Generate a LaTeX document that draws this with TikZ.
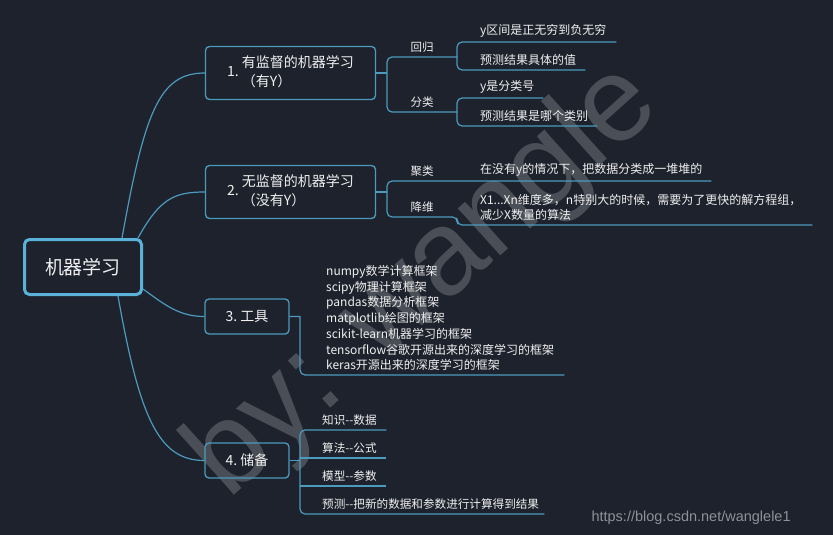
\documentclass[tikz,border=0pt]{standalone}
\usepackage{fontspec}
\setmainfont{Noto Sans CJK SC}
\newfontfamily\urlfont{Liberation Sans}
\usetikzlibrary{calc}
\definecolor{Bg}{HTML}{1E222D}
\definecolor{Line}{HTML}{4C9BBE}
\definecolor{RootLine}{HTML}{5AB2D8}
\definecolor{Ink}{HTML}{F0F0F0}
\definecolor{Mark}{HTML}{4A4E56}
\definecolor{Url}{HTML}{8E9197}

\begin{document}
\begin{tikzpicture}[x=1pt,y=-1pt,
  box/.style={draw=Line,line width=1.3pt,rounded corners=4pt,text=Ink,inner sep=0pt,font=\fontsize{14}{19}\selectfont},
  link/.style={draw=Line,line width=1.2pt},
  tag/.style={anchor=south west,inner xsep=0pt,inner ysep=4pt,minimum width=70pt,text=Ink,font=\fontsize{11.5}{14}\selectfont},
  item/.style 2 args={anchor=south west,inner xsep=0pt,inner ysep=4pt,text width=#1,text=Ink,font=\fontsize{12}{15}\selectfont,execute at begin node={\parindent=0pt\leftskip=#2\relax}},
  stock/.style={item={#1}{22pt},font=\fontsize{11.6}{15}\selectfont}]
\fill[Bg] (0,0) rectangle (833,535);
\useasboundingbox (0,0) rectangle (833,535);
\node[rotate=42,text=Mark,font=\urlfont\fontsize{120}{120}\selectfont] (mark) at (425,282) {by: wangle};
\node[anchor=base west,text=Url,font=\urlfont\fontsize{14.5}{16}\selectfont] (url) at (588,521) {https://blog.csdn.net/wanglele1};
\node[draw=RootLine,line width=3pt,rounded corners=5pt,minimum width=117pt,minimum height=55pt,text=Ink,font=\fontsize{19}{23}\selectfont] (root) at (83,267) {机器学习};
\node[box,minimum width=170pt,minimum height=53pt] (n1) at (290.5,73) {1.~\begin{tabular}{@{}l@{}}有监督的机器学习\\（有Y）\end{tabular}};
\node[box,minimum width=170pt,minimum height=53pt] (n2) at (290.5,192) {2.~\begin{tabular}{@{}l@{}}无监督的机器学习\\（没有Y）\end{tabular}};
\node[box,minimum width=84pt,minimum height=35pt] (n3) at (247,316.5) {3.~工具};
\node[box,minimum width=84pt,minimum height=35pt] (n4) at (247,460.5) {4.~储备};
\node[tag] (hg) at (387,57) {回归};
\node[tag] (fl) at (387,112) {分类};
\node[item={159pt}{23pt}] (r1) at (457,42) {y区间是正无穷到负无穷};
\node[item={128pt}{23pt}] (r2) at (457,70) {预测结果具体的值};
\node[item={86pt}{23pt}] (c1) at (457,98) {y是分类号};
\node[item={140pt}{23pt}] (c2) at (457,126) {预测结果是哪个类别};
\node[tag] (jl) at (387,181) {聚类};
\node[tag] (jw) at (387,217) {降维};
\node[item={254pt}{23pt}] (j1) at (457,181) {在没有y的情况下，把数据分类成一堆堆的};
\node[item={355pt}{23pt}] (d1) at (457,225) {X1...Xn维度多，n特别大的时候，需要为了更快的解方程组，\\减少X数量的算法};
\node[item={264pt}{26pt},font=\fontsize{12}{15.7}\selectfont] (tools) at (300,375) {numpy数学计算框架\\scipy物理计算框架\\pandas数据分析框架\\matplotlib绘图的框架\\scikit-learn机器学习的框架\\tensorflow谷歌开源出来的深度学习的框架\\keras开源出来的深度学习的框架};
\node[stock=86pt] (k1) at (300,430) {知识-{}-数据};
\node[stock=86pt] (k2) at (300,458) {算法-{}-公式};
\node[stock=86pt] (k3) at (300,486) {模型-{}-参数};
\node[stock=244pt] (k4) at (300,514) {\mbox{预测-{}-把新的数据和参数进行计算得到结果}};
\draw[link] ([xshift=39pt]root.north) .. controls ($(root.north)+(62,-128)$) and ($(n1.west)+(-45,0)$) .. (n1.west);
\draw[link] ([xshift=55pt]root.north) .. controls ($(root.north)+(77,-40)$) and ($(n2.west)+(-30,0)$) .. (n2.west);
\draw[link] ([yshift=-22pt]root.east) .. controls ($(root.east)+(22,38)$) and ($(n3.west)+(-25,0)$) .. (n3.west);
\draw[link] ([xshift=35pt]root.south) .. controls ($(root.south)+(57,124)$) and ($(n4.west)+(-45,0)$) .. (n4.west);
\draw[link] (n1.east) -- (n1.east -| hg.south west);
\draw[link,rounded corners=5pt] (hg.south east) -- (hg.south west) -- (fl.south west) -- (fl.south east);
\draw[link,rounded corners=5pt] (r1.south east) -- (r1.south west) -- (r2.south west) -- (r2.south east);
\draw[link,rounded corners=5pt] (c1.south east) -- (c1.south west) -- (c2.south west) -- (c2.south east);
\draw[link] (n2.east) -- (n2.east -| jl.south west);
\draw[link,rounded corners=5pt] (j1.south east) -- (jl.south west) -- (jw.south west) -- (jw.south east) -- (d1.south west) -- (d1.south east);
\draw[link] (n3.east) -- (n3.east -| tools.south west) [rounded corners=5pt] -- (tools.south west) -- (tools.south east);
\draw[link] (n4.east) -- (n4.east -| k1.south west);
\draw[link,rounded corners=5pt] (k1.south east) -- (k1.south west) -- (k4.south west) -- (k4.south east);
\draw[link] (k2.south west) -- (k2.south east);
\draw[link] (k3.south west) -- (k3.south east);
\end{tikzpicture}
\end{document}
